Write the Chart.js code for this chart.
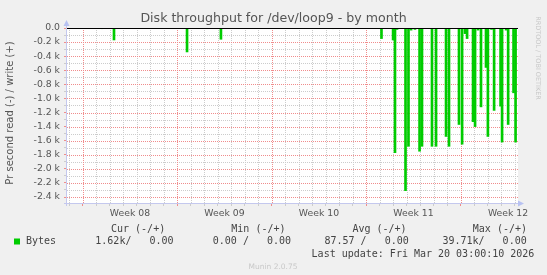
<!DOCTYPE html>
<html>
<head>
<meta charset="utf-8">
<script src="https://cdn.jsdelivr.net/npm/chart.js@4/dist/chart.umd.min.js"></script>
<style>
  html, body { margin: 0; padding: 0; background: #f0f0f0; }
  #wrap { width: 547px; height: 275px; position: relative; }
</style>
</head>
<body>
<div id="wrap"><canvas id="chart"></canvas></div>
<script>
// days counted from Monday of week 08 (0 = Mon, 7 = next Mon ...)
const weekLabels = ['Week 08', 'Week 09', 'Week 10', 'Week 11', 'Week 12'];
const weekCenters = [3.5, 10.5, 17.5, 24.5, 31.5];
const yTickValues = [0, -200, -400, -600, -800, -1000, -1200, -1400, -1600, -1800, -2000, -2200, -2400];
const yTickLabels = ['0.0', '-0.2 k', '-0.4 k', '-0.6 k', '-0.8 k', '-1.0 k', '-1.2 k', '-1.4 k', '-1.6 k', '-1.8 k', '-2.0 k', '-2.2 k', '-2.4 k'];

// read bytes per second (shown negative), spikes only; everything else is 0
const spikeDays = [1.43, 2.32, 7.73, 10.24, 18.54, 22.13, 22.99, 23.13, 23.28, 23.91, 24.13, 24.32, 24.61,
  24.95, 25.13, 25.87, 26.17, 26.91, 27.13, 27.87, 28.10, 28.32, 28.47, 28.91, 29.06, 29.28, 29.50,
  29.87, 30.01, 30.28, 30.47, 30.95, 31.06, 31.36, 31.51, 31.91, 32.06];
const spikeValues = [-10, -170, -340, -160, -10, -150, -170, -1770, -20, -2310, -1680, -30, -20,
  -1750, -1680, -1680, -1680, -1540, -1680, -1370, -1650, -80, -150, -1330, -1400, -30, -1120,
  -560, -1540, -20, -1170, -1110, -1620, -30, -1370, -920, -1620];

const points = spikeDays.map((d, i) => ({ x: d, y: spikeValues[i] }));

const FONT = '"DejaVu Sans", sans-serif';
const MONO = '"DejaVu Sans Mono", monospace';
const RED = '#f08c8c';
const GRAY = '#cccccc';
const AXIS = '#c4c8ee';

function isMajorX(v) { return v % 7 === 0; }
function isMajorY(v) { return v % 200 === 0; }

const munin = {
  id: 'munin',
  beforeDraw(chart) {
    const c = chart.ctx, a = chart.chartArea;
    c.save();
    c.fillStyle = '#f0f0f0';
    c.fillRect(0, 0, chart.width, chart.height);
    c.fillStyle = '#ffffff';
    c.fillRect(a.left, a.top, a.right - a.left, a.bottom - a.top);
    c.restore();
  },
  beforeDatasetsDraw(chart) {
    // dotted grid: gray minor lines first, red major lines on top
    const c = chart.ctx, a = chart.chartArea;
    const xs = chart.scales.x, ys = chart.scales.y;
    c.save();
    c.lineWidth = 1;
    c.setLineDash([1, 1]);
    [false, true].forEach(major => {
      c.strokeStyle = major ? RED : GRAY;
      c.beginPath();
      for (let d = Math.ceil(xs.min); d <= xs.max; d++) {
        if (isMajorX(d) !== major) continue;
        const px = Math.round(xs.getPixelForValue(d)) + 0.5;
        c.moveTo(px, a.top);
        c.lineTo(px, a.bottom);
      }
      for (let v = -100; v >= ys.min; v -= 100) {
        if (isMajorY(v) !== major) continue;
        const py = Math.round(ys.getPixelForValue(v)) + 0.5;
        c.moveTo(a.left, py);
        c.lineTo(a.right, py);
      }
      c.stroke();
    });
    c.restore();
  },
  afterDatasetsDraw(chart) {
    const c = chart.ctx, a = chart.chartArea;
    const y0 = chart.scales.y.getPixelForValue(0);
    c.save();
    c.strokeStyle = '#000';
    c.lineWidth = 1;
    c.beginPath();
    c.moveTo(a.left, Math.round(y0) + 0.5);
    c.lineTo(a.right, Math.round(y0) + 0.5);
    c.stroke();
    // axes
    c.strokeStyle = AXIS;
    c.beginPath();
    c.moveTo(a.left - 0.5, a.bottom + 3);
    c.lineTo(a.left - 0.5, a.top - 4);
    c.moveTo(a.left - 3, Math.round(a.bottom) + 0.5);
    c.lineTo(a.right + 2, Math.round(a.bottom) + 0.5);
    c.stroke();
    c.fillStyle = '#b8c2f2';
    c.beginPath();
    c.moveTo(a.left - 0.5, a.top - 8);
    c.lineTo(a.left - 3.5, a.top - 2);
    c.lineTo(a.left + 2.5, a.top - 2);
    c.closePath();
    c.fill();
    c.beginPath();
    c.moveTo(a.right + 6, Math.round(a.bottom) + 0.5);
    c.lineTo(a.right, Math.round(a.bottom) - 2.5);
    c.lineTo(a.right, Math.round(a.bottom) + 3.5);
    c.closePath();
    c.fill();
    c.restore();
  },
  afterDraw(chart) {
    const c = chart.ctx;
    c.save();
    c.fillStyle = '#555';
    c.font = '12.6px ' + FONT;
    c.textAlign = 'center';
    c.textBaseline = 'middle';
    c.fillText('Disk throughput for /dev/loop9 - by month', 273.5, 19);

    c.save();
    c.translate(10, 113);
    c.rotate(-Math.PI / 2);
    c.font = '10px ' + FONT;
    c.fillText('Pr second read (-) / write (+)', 0, 0);
    c.restore();

    c.save();
    c.translate(538, 58);
    c.rotate(Math.PI / 2);
    c.fillStyle = '#c8c8c8';
    c.font = '6.5px ' + FONT;
    c.fillText('RRDTOOL / TOBI OETIKER', 0, 0);
    c.restore();

    // legend
    c.font = '10px ' + MONO;
    c.textAlign = 'left';
    c.fillStyle = '#444';
    c.fillText('Cur (-/+)', 111, 229.5);
    c.fillText('Min (-/+)', 231.3, 229.5);
    c.fillText('Avg (-/+)', 352.4, 229.5);
    c.fillText('Max (-/+)', 472.8, 229.5);
    c.fillText('Bytes', 26, 241.5);
    c.fillText('1.62k/   0.00', 95.3, 241.5);
    c.fillText('0.00 /   0.00', 212.8, 241.5);
    c.fillText('87.57 /   0.00', 324.5, 241.5);
    c.fillText('39.71k/   0.00', 442.4, 241.5);
    c.fillText('Last update: Fri Mar 20 03:00:10 2026', 311.6, 254.3);
    c.fillStyle = '#00cc00';
    c.fillRect(14, 238.5, 6, 6);

    c.fillStyle = '#c8c8c8';
    c.font = '7.5px ' + FONT;
    c.textAlign = 'center';
    c.fillText('Munin 2.0.75', 273, 267.5);
    c.restore();
  }
};

new Chart(document.getElementById('chart'), {
  type: 'bar',
  data: {
    datasets: [{
      label: 'Bytes',
      data: points,
      backgroundColor: '#00cc00',
      borderWidth: 0,
      barThickness: 2
    }]
  },
  options: {
    responsive: true,
    maintainAspectRatio: false,
    animation: false,
    layout: { padding: { top: 28, right: 29, left: 0, bottom: 0 } },
    plugins: { legend: { display: false }, tooltip: { enabled: false } },
    scales: {
      x: {
        type: 'linear',
        offset: false,
        min: -1.16,
        max: 32.24,
        afterBuildTicks(scale) {
          const t = [];
          for (let d = -1; d <= 32; d++) t.push({ value: d });
          weekCenters.forEach(v => t.push({ value: v }));
          t.sort((p, q) => p.value - q.value);
          scale.ticks = t;
        },
        afterFit(scale) { scale.height = 72; },
        ticks: {
          autoSkip: false,
          maxRotation: 0,
          padding: 2,
          color: '#555',
          font: { family: FONT, size: 9.3 },
          callback(value) {
            const i = weekCenters.indexOf(value);
            return i >= 0 ? weekLabels[i] : '';
          }
        },
        grid: {
          offset: false,
          drawOnChartArea: false,
          tickLength: 3,
          color(ctx) {
            const v = ctx.tick ? ctx.tick.value : 0.5;
            if (!Number.isInteger(v)) return 'rgba(0,0,0,0)';
            return isMajorX(v) ? RED : GRAY;
          }
        },
        border: { display: false }
      },
      y: {
        min: -2485,
        max: 0,
        afterBuildTicks(scale) {
          const t = [];
          for (let v = 0; v >= -2400; v -= 100) t.push({ value: v });
          scale.ticks = t;
        },
        afterFit(scale) { scale.width = 67; },
        ticks: {
          autoSkip: false,
          padding: 4,
          color: '#555',
          font: { family: FONT, size: 9.3 },
          callback(value) {
            const i = yTickValues.indexOf(value);
            return i >= 0 ? yTickLabels[i] : '';
          }
        },
        grid: {
          drawOnChartArea: false,
          tickLength: 3,
          color(ctx) {
            const v = ctx.tick ? ctx.tick.value : 0;
            return isMajorY(v) ? RED : GRAY;
          }
        },
        border: { display: false }
      }
    }
  },
  plugins: [munin]
});
</script>
</body>
</html>
